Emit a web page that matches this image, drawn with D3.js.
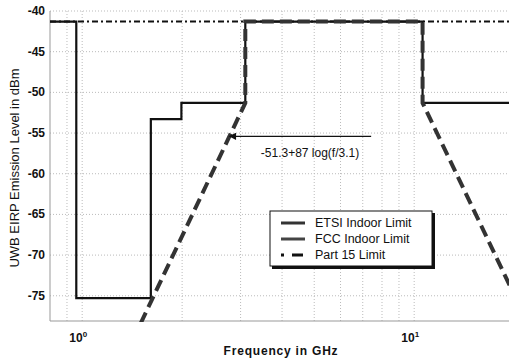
<!DOCTYPE html>
<html>
<head>
<meta charset="utf-8">
<script src="https://cdn.jsdelivr.net/npm/d3@7"></script>
<style>
  body { margin: 0; background: #fff; }
  text { font-family: "Liberation Sans", Arial, sans-serif; }
</style>
</head>
<body>
<div id="chart"></div>
<script>
// FCC indoor mask (solid staircase)
const fccFreq = [0.8, 0.96, 0.96, 1.61, 1.61, 1.99, 1.99, 3.1, 3.1, 10.6, 10.6, 25];
const fccLevel = [-41.3, -41.3, -75.3, -75.3, -53.3, -53.3, -51.3, -51.3, -41.3, -41.3, -51.3, -51.3];
// ETSI indoor proposal (dashed)
const etsiFreq = [1.5, 3.1, 3.1, 10.6, 10.6, 22];
const etsiLevel = [-78.4, -51.3, -41.3, -41.3, -51.3, -78.4];
// Part 15 limit
const p15Freq = [0.8, 25];
const p15Level = [-41.3, -41.3];

const yTicks = [-40, -45, -50, -55, -60, -65, -70, -75];
const xGrid = [0.9, 1, 2, 3, 4, 5, 6, 7, 8, 9, 10, 20];
const xTickLabels = [{ v: 1, exp: '0' }, { v: 10, exp: '1' }];
const legendLabels = ['ETSI Indoor Limit', 'FCC Indoor Limit', 'Part 15 Limit'];
const annotation = { text: '-51.3+87 log(f/3.1)', tipF: 2.78, tipL: -55.4, tailF: 7.42 };

const width = 509, height = 358;
const m = { left: 50, top: 11, bottom: 321 };

const svg = d3.select('#chart').append('svg')
  .attr('width', width).attr('height', height);

const x = d3.scaleLog().domain([0.8, 25]).range([m.left, m.left + 332 * Math.log10(25 / 0.8)]);
const y = d3.scaleLinear().domain([-40, -78.1]).range([m.top, m.bottom]);

svg.append('clipPath').attr('id', 'clip')
  .append('rect').attr('x', m.left).attr('y', m.top - 5).attr('width', width - m.left).attr('height', m.bottom - m.top + 6);

// grid
svg.append('g').selectAll('line').data(yTicks).join('line')
  .attr('x1', m.left).attr('x2', width)
  .attr('y1', d => y(d)).attr('y2', d => y(d))
  .attr('stroke', '#bbb').attr('stroke-width', 1).attr('stroke-dasharray', '1,2');
svg.append('g').selectAll('line').data(xGrid).join('line')
  .attr('x1', d => x(d)).attr('x2', d => x(d))
  .attr('y1', m.top).attr('y2', m.bottom)
  .attr('stroke', '#bbb').attr('stroke-width', 1).attr('stroke-dasharray', '1,2');

// axes lines
svg.append('line').attr('x1', m.left).attr('x2', m.left).attr('y1', m.top).attr('y2', m.bottom)
  .attr('stroke', '#999');
svg.append('line').attr('x1', m.left).attr('x2', width).attr('y1', m.bottom).attr('y2', m.bottom)
  .attr('stroke', '#999');

// y labels
svg.append('g').selectAll('text').data(yTicks).join('text')
  .attr('x', m.left - 5).attr('y', d => y(d) + 4)
  .attr('text-anchor', 'end').attr('font-size', 12).attr('font-weight', 'bold')
  .attr('fill', '#111')
  .text(d => d);

// x labels
const xl = svg.append('g').selectAll('text').data(xTickLabels).join('text')
  .attr('x', d => x(d.v) - 4).attr('y', 342)
  .attr('text-anchor', 'middle').attr('font-size', 12).attr('font-weight', 'bold').attr('fill', '#111');
xl.append('tspan').text('10');
xl.append('tspan').attr('dy', -5).attr('font-size', 8).text(d => d.exp);

svg.append('text').attr('x', 281).attr('y', 355)
  .attr('text-anchor', 'middle').attr('font-size', 12).attr('font-weight', 'bold')
  .attr('letter-spacing', 0.8).attr('fill', '#111').text('Frequency in GHz');

svg.append('text').attr('transform', 'translate(19,168) rotate(-90)')
  .attr('text-anchor', 'middle').attr('font-size', 13).attr('fill', '#111')
  .text('UWB EIRP Emission Level in dBm');

const line = d3.line().x(d => x(d[0])).y(d => y(d[1]));
const plot = svg.append('g').attr('clip-path', 'url(#clip)');

plot.append('path').datum(p15Freq.map((f, i) => [f, p15Level[i]]))
  .attr('d', line).attr('fill', 'none').attr('stroke', '#111')
  .attr('stroke-width', 2).attr('stroke-dasharray', '6,3,2,3');

plot.append('path').datum(fccFreq.map((f, i) => [f, fccLevel[i]]))
  .attr('d', line).attr('fill', 'none').attr('stroke', '#111')
  .attr('stroke-width', 2.2);

plot.append('path').datum(etsiFreq.map((f, i) => [f, etsiLevel[i]]))
  .attr('d', line).attr('fill', 'none').attr('stroke', '#333')
  .attr('stroke-width', 4).attr('stroke-dasharray', '12,6');

// annotation arrow
svg.append('defs').append('marker').attr('id', 'arr')
  .attr('viewBox', '0 0 10 10').attr('refX', 9).attr('refY', 5)
  .attr('markerWidth', 7).attr('markerHeight', 6).attr('orient', 'auto')
  .append('path').attr('d', 'M0,0L10,5L0,10Z').attr('fill', '#111');
svg.append('line')
  .attr('x1', x(annotation.tailF)).attr('x2', x(annotation.tipF))
  .attr('y1', y(annotation.tipL)).attr('y2', y(annotation.tipL))
  .attr('stroke', '#111').attr('stroke-width', 1.2).attr('marker-end', 'url(#arr)');
svg.append('text').attr('x', 310).attr('y', 157)
  .attr('text-anchor', 'middle').attr('font-size', 12).attr('fill', '#111')
  .text(annotation.text);

// legend
const lg = svg.append('g').attr('transform', 'translate(270,211)');
lg.append('rect').attr('x', 2).attr('y', 2).attr('width', 163).attr('height', 56).attr('fill', '#111');
lg.append('rect').attr('x', 0).attr('y', 0).attr('width', 162).attr('height', 55)
  .attr('fill', '#fff').attr('stroke', '#111').attr('stroke-width', 1);
const rows = [
  { stroke: '#333', w: 3, dash: null },
  { stroke: '#444', w: 3, dash: null },
  { stroke: '#111', w: 3, dash: '3,8,8,0' }
];
legendLabels.forEach((lab, i) => {
  const yy = 12 + i * 16;
  lg.append('line').attr('x1', 11).attr('x2', 35).attr('y1', yy).attr('y2', yy)
    .attr('stroke', rows[i].stroke).attr('stroke-width', rows[i].w)
    .attr('stroke-dasharray', rows[i].dash);
  lg.append('text').attr('x', 45).attr('y', yy + 4)
    .attr('font-size', 12.5).attr('fill', '#111').text(lab);
});
</script>
</body>
</html>
